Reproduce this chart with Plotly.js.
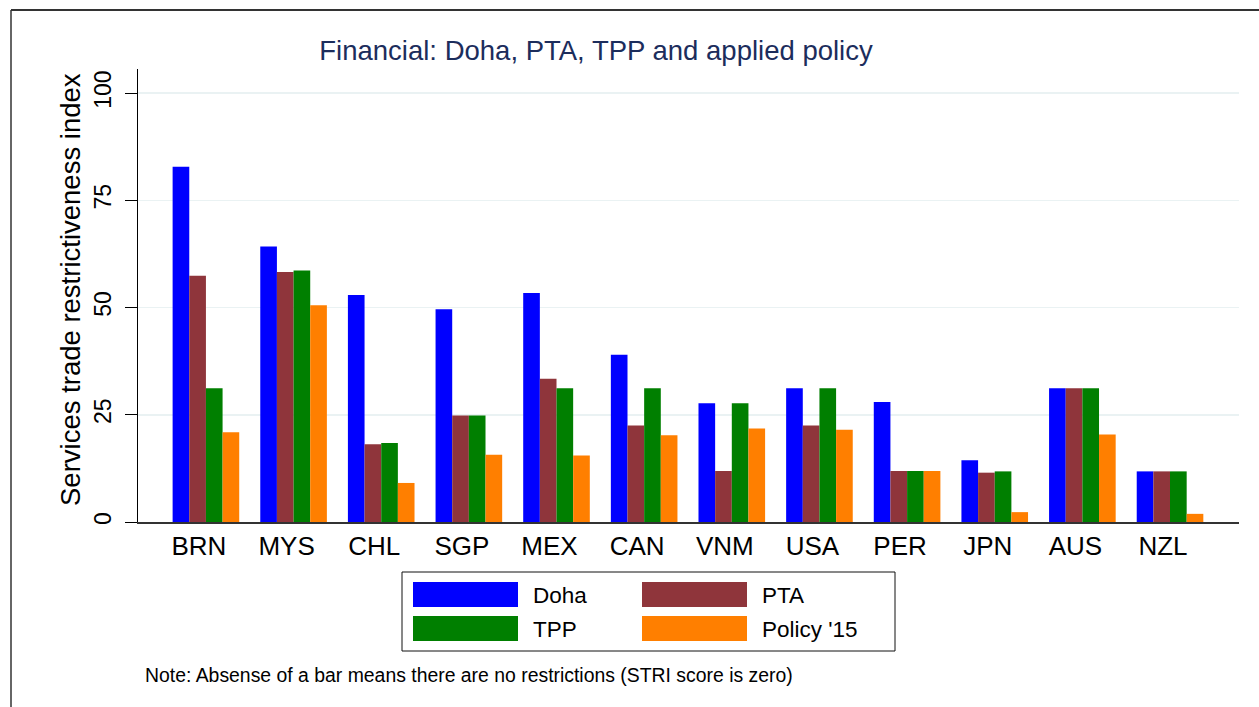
<!DOCTYPE html>
<html>
<head>
<meta charset="utf-8">
<script src="https://cdn.plot.ly/plotly-3.0.1.min.js"></script>
<style>
  html, body { margin: 0; padding: 0; background: #fff; }
  #chart { width: 1259px; height: 707px; }
</style>
</head>
<body>
<div id="chart"></div>
<script>
// ---- data ----
var countries = ["BRN", "MYS", "CHL", "SGP", "MEX", "CAN", "VNM", "USA", "PER", "JPN", "AUS", "NZL"];
var doha      = [82.8, 64.2, 52.9, 49.6, 53.4, 39.0, 27.7, 31.2, 28.0, 14.4, 31.2, 11.8];
var pta       = [57.4, 58.3, 18.1, 24.8, 33.4, 22.5, 11.9, 22.5, 11.9, 11.5, 31.2, 11.8];
var tpp       = [31.2, 58.6, 18.4, 24.8, 31.2, 31.2, 27.7, 31.2, 11.9, 11.8, 31.2, 11.8];
var policy15  = [20.9, 50.5,  9.1, 15.7, 15.5, 20.2, 21.8, 21.5, 11.9,  2.3, 20.4,  1.9];
var seriesNames = ["Doha", "PTA", "TPP", "Policy '15"];
var yTickVals = [0, 25, 50, 75, 100];
var yTickText = ["0", "25", "50", "75", "100"];
var titleText = "Financial: Doha, PTA, TPP and applied policy";
var yTitleText = "Services trade restrictiveness index";
var noteText = "Note: Absense of a bar means there are no restrictions (STRI score is zero)";

// ---- styles / layout geometry ----
var colors = ["#0000ff", "#8f353b", "#007f00", "#ff7f00"];
var W = 1259, H = 707;
var L = 138, R = 1239, T = 69, B = 522;
function px(x) { return (x - L) / (R - L); }
function py(y) { return (B - y) / (B - T); }
var FONT = "Liberation Sans, Arial, Helvetica, sans-serif";

var allSeries = [doha, pta, tpp, policy15];
var traces = allSeries.map(function (vals, i) {
  return {
    type: "bar",
    name: seriesNames[i],
    x: countries,
    y: vals,
    marker: { color: colors[i], line: { width: 0 } },
    hoverinfo: "x+y+name"
  };
});

var shapes = [
  // outer frame (top & left)
  { type: "line", xref: "paper", yref: "paper", x0: px(11), x1: px(1262), y0: py(10), y1: py(10),
    line: { color: "#333333", width: 2 } },
  { type: "line", xref: "paper", yref: "paper", x0: px(11), x1: px(11), y0: py(10), y1: py(710),
    line: { color: "#333333", width: 1.5 } },
  // legend box
  { type: "rect", xref: "paper", yref: "paper", x0: px(402), x1: px(895), y0: py(651), y1: py(572),
    line: { color: "#111111", width: 1 }, fillcolor: "rgba(0,0,0,0)" }
];
var annotations = [
  { xref: "paper", yref: "paper", x: px(70), y: py(290), text: yTitleText, textangle: -90,
    showarrow: false, xanchor: "center", yanchor: "middle",
    font: { family: FONT, size: 27.5, color: "#000000" } },
  { xref: "paper", yref: "paper", x: px(143), y: py(675), text: noteText,
    showarrow: false, xanchor: "left", yanchor: "middle",
    font: { family: FONT, size: 19.4, color: "#000000" } }
];
// legend entries (2 columns x 2 rows)
var legPos = [[413, 582], [642, 582], [413, 616], [642, 616]];
seriesNames.forEach(function (nm, i) {
  var sx = legPos[i][0], sy = legPos[i][1];
  shapes.push({ type: "rect", xref: "paper", yref: "paper",
    x0: px(sx), x1: px(sx + 105), y0: py(sy + 25), y1: py(sy),
    line: { width: 0 }, fillcolor: colors[i] });
  annotations.push({ xref: "paper", yref: "paper", x: px(sx + 118), y: py(sy + 13),
    text: nm, showarrow: false, xanchor: "left", yanchor: "middle",
    font: { family: FONT, size: 22.5, color: "#000000" } });
});

var layout = {
  width: W, height: H,
  margin: { l: L, r: W - R, t: T, b: H - B, pad: 0 },
  paper_bgcolor: "#ffffff",
  plot_bgcolor: "#ffffff",
  barmode: "group",
  bargap: 0.24,
  bargroupgap: 0,
  showlegend: false,
  font: { family: FONT, color: "#000000" },
  title: {
    text: titleText,
    xref: "paper", x: px(596), xanchor: "center",
    yref: "container", y: 1 - 50 / H, yanchor: "middle",
    font: { family: FONT, size: 27.5, color: "#1c2d5c" }
  },
  xaxis: {
    type: "category",
    range: [-0.775, 11.787],
    showgrid: false,
    zeroline: false,
    showline: true, linecolor: "#333333", linewidth: 1.5,
    ticks: "",
    ticklabelshift: -7,
    tickfont: { family: FONT, size: 26, color: "#000000" },
    fixedrange: true
  },
  yaxis: {
    range: [0, (B - T) / ((B - 93) / 100)],
    tickvals: yTickVals,
    ticktext: yTickText,
    tickangle: -90,
    ticks: "outside", ticklen: 12, tickwidth: 1, tickcolor: "#000000",
    showline: true, linecolor: "#000000", linewidth: 1,
    showgrid: true, gridcolor: "#eaf2f3", gridwidth: 1.5,
    zeroline: false,
    tickfont: { family: FONT, size: 23, color: "#000000" },
    ticklabelstandoff: 5,
    fixedrange: true
  },
  shapes: shapes,
  annotations: annotations
};

Plotly.newPlot("chart", traces, layout, { displayModeBar: false, staticPlot: true });
</script>
</body>
</html>
